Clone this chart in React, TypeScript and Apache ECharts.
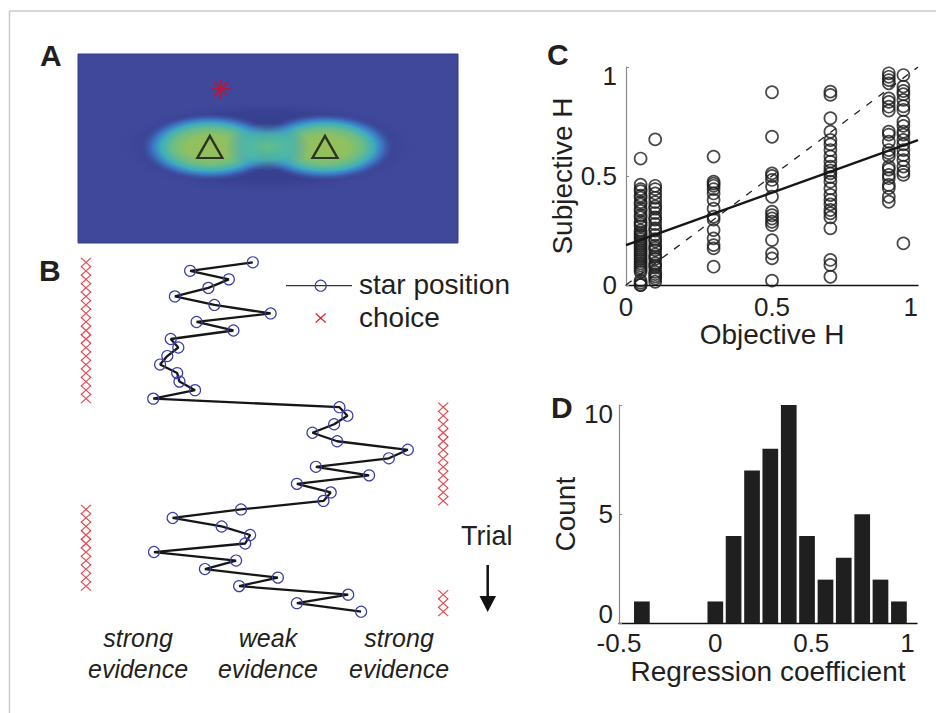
import React, { useEffect, useRef } from 'react';
import * as echarts from 'echarts';

const FONT = '"Liberation Sans", Arial, Helvetica, sans-serif';
const INK = '#231f20';

// ---------- Panel A: targets and star on the likelihood map ----------
const targetX = [0.347, 0.65];
const targetY = [0.508, 0.508];
const starX = [0.376];
const starY = [0.815];

// ---------- Panel B: star position per trial and choice ----------
const starPosition = [
  46.0, 29.5, 39.7, 34.3, 25.5, 35.9, 50.7, 31.2, 40.9, 24.4,
  26.4, 23.5, 21.6, 26.1, 26.7, 30.8, 19.8, 68.8, 70.9, 67.4,
  61.7, 68.2, 86.8, 81.8, 62.6, 76.6, 57.6, 66.5, 64.6, 42.9,
  24.9, 37.8, 45.3, 44.0, 20.0, 41.6, 33.4, 52.6, 42.4, 71.1,
  57.6, 74.5,
];
const trialChoice = 'LLLLLLLLLLLLLLLLLRRRRRRRRRRRRLLLLLLLLLLRRR'.split('');
const choiceSideX: Record<string, number> = { L: 2.1, R: 96.1 };
const evidenceLabels = ['strong\nevidence', 'weak\nevidence', 'strong\nevidence'];
const evidenceLabelX = [15.8, 50.0, 84.5];

// ---------- Panel C: subjective vs objective hazard ----------
const objectiveLevels = [0.05, 0.1, 0.3, 0.5, 0.7, 0.9, 0.95];
const subjAt005 = [0.58, 0.46, 0.44, 0.43, 0.41, 0.40, 0.38, 0.37, 0.35, 0.34, 0.32, 0.31, 0.29, 0.28, 0.27, 0.25, 0.24, 0.23, 0.22, 0.21, 0.20, 0.19, 0.18, 0.17, 0.16, 0.15, 0.14, 0.13, 0.12, 0.11, 0.10, 0.09, 0.08, 0.07, 0.06, 0.02, 0.01, 0.0, 0.0];
const subjAt010 = [0.668, 0.455, 0.44, 0.42, 0.40, 0.38, 0.36, 0.35, 0.33, 0.31, 0.30, 0.28, 0.26, 0.25, 0.23, 0.21, 0.20, 0.18, 0.17, 0.16, 0.14, 0.13, 0.12, 0.10, 0.09, 0.08, 0.06, 0.05, 0.04, 0.03, 0.015];
const subjAt030 = [0.589, 0.474, 0.465, 0.455, 0.44, 0.42, 0.39, 0.35, 0.313, 0.30, 0.252, 0.214, 0.183, 0.168, 0.084];
const subjAt050 = [0.884, 0.68, 0.512, 0.50, 0.482, 0.451, 0.405, 0.336, 0.32, 0.305, 0.29, 0.275, 0.206, 0.145, 0.122, 0.02];
const subjAt070 = [0.887, 0.872, 0.765, 0.703, 0.665, 0.645, 0.619, 0.59, 0.566, 0.543, 0.525, 0.512, 0.495, 0.474, 0.443, 0.413, 0.39, 0.37, 0.344, 0.329, 0.31, 0.26, 0.115, 0.092, 0.038];
const subjAt090 = [0.971, 0.955, 0.94, 0.925, 0.856, 0.84, 0.818, 0.80, 0.703, 0.69, 0.657, 0.619, 0.605, 0.589, 0.543, 0.53, 0.505, 0.49, 0.459, 0.445, 0.405, 0.382];
const subjAt095 = [0.963, 0.91, 0.89, 0.875, 0.849, 0.82, 0.803, 0.749, 0.73, 0.703, 0.69, 0.665, 0.645, 0.619, 0.596, 0.573, 0.543, 0.52, 0.505, 0.191];
const subjectiveByLevel = [subjAt005, subjAt010, subjAt030, subjAt050, subjAt070, subjAt090, subjAt095];
const fitLine = [[0, 0.183], [1, 0.665]];
const identityLine = [[0, 0], [1, 1]];

// ---------- Panel D: histogram of regression coefficients ----------
const binCenters = [-0.381, -0.286, -0.190, -0.095, 0.001, 0.096, 0.192, 0.287, 0.383, 0.478, 0.574, 0.669, 0.765, 0.860, 0.956];
const binCounts = [1, 0, 0, 0, 1, 4, 7, 8, 10, 4, 2, 3, 5, 2, 1];

export default function App() {
  const ref = useRef<HTMLDivElement>(null);

  useEffect(() => {
    if (!ref.current) return;
    const chart = echarts.init(ref.current, null, { renderer: 'svg' });

    const gA = { left: 78, top: 54, width: 380, height: 189 };
    const gB = { left: 78, top: 253.8, width: 380, height: 366.4 };
    const gC = { left: 626, top: 67, width: 292, height: 218 };
    const gD = { left: 619, top: 405, width: 298, height: 218.3 };

    const ax = (v: number) => gA.left + v * gA.width;
    const ay = (v: number) => gA.top + (1 - v) * gA.height;
    const bx = (v: number) => gB.left + (v / 100) * gB.width;

    const cx1 = ax(targetX[0]);
    const cx2 = ax(targetX[1]);
    const cyT = ay(targetY[0]);
    const mid = (cx1 + cx2) / 2;

    const blobGrad = {
      type: 'radial', x: 0.5, y: 0.5, r: 0.5,
      colorStops: [
        { offset: 0, color: 'rgba(152,192,90,1)' },
        { offset: 0.35, color: 'rgba(142,192,98,1)' },
        { offset: 0.55, color: 'rgba(104,188,138,1)' },
        { offset: 0.7, color: 'rgba(62,172,192,1)' },
        { offset: 0.82, color: 'rgba(60,122,200,0.9)' },
        { offset: 0.92, color: 'rgba(62,88,170,0.5)' },
        { offset: 1, color: 'rgba(62,72,155,0)' },
      ],
    };
    const midGrad = {
      type: 'radial', x: 0.5, y: 0.5, r: 0.5,
      colorStops: [
        { offset: 0, color: 'rgba(100,190,135,1)' },
        { offset: 0.55, color: 'rgba(75,182,170,0.85)' },
        { offset: 1, color: 'rgba(60,150,200,0)' },
      ],
    };
    const haloGrad = {
      type: 'radial', x: 0.5, y: 0.5, r: 0.5,
      colorStops: [
        { offset: 0, color: 'rgba(50,58,135,0.9)' },
        { offset: 0.75, color: 'rgba(52,60,140,0.6)' },
        { offset: 1, color: 'rgba(62,72,155,0)' },
      ],
    };

    const txt = (text: string, x: number, y: number, size: number, extra: any = {}) => ({
      type: 'text',
      style: {
        text, x, y,
        fontSize: size,
        fontFamily: FONT,
        fill: INK,
        textAlign: 'left',
        textVerticalAlign: 'middle',
        ...extra,
      },
    });

    const scatterC: number[][] = [];
    objectiveLevels.forEach((h, i) => {
      subjectiveByLevel[i].forEach((s) => scatterC.push([h, s]));
    });

    const axisLabelStyle = { fontSize: 26, color: INK, fontFamily: FONT, lineHeight: 18 };
    const axisNameStyle = { fontSize: 28, color: INK, fontFamily: FONT };

    const option: any = {
      animation: false,
      backgroundColor: '#ffffff',
      grid: [
        { ...gA },
        { ...gB },
        { ...gC },
        { ...gD },
      ],
      xAxis: [
        { gridIndex: 0, type: 'value', min: 0, max: 1, show: false },
        { gridIndex: 1, type: 'value', min: 0, max: 100, show: false },
        {
          gridIndex: 2, type: 'value', min: 0, max: 1, interval: 0.5,
          name: 'Objective H', nameLocation: 'middle', nameGap: 31, nameTextStyle: axisNameStyle,
          axisLine: { lineStyle: { color: '#111', width: 1.3 } },
          axisTick: { show: false },
          splitLine: { show: false },
          axisLabel: { ...axisLabelStyle, margin: 13, alignMaxLabel: 'right' },
        },
        {
          gridIndex: 3, type: 'value', min: -0.5, max: 1.05, interval: 0.5,
          name: 'Regression coefficient', nameLocation: 'middle', nameGap: 32, nameTextStyle: axisNameStyle,
          axisLine: { lineStyle: { color: '#111', width: 1.3 } },
          axisTick: { show: false },
          splitLine: { show: false },
          axisLabel: { ...axisLabelStyle, margin: 11, showMaxLabel: false },
        },
      ],
      yAxis: [
        { gridIndex: 0, type: 'value', min: 0, max: 1, show: false },
        { gridIndex: 1, type: 'value', min: 0, max: 43, inverse: true, show: false },
        {
          gridIndex: 2, type: 'value', min: 0, max: 1, interval: 0.5,
          name: 'Subjective H', nameLocation: 'middle', nameGap: 46, nameTextStyle: axisNameStyle,
          axisLine: { onZero: false, lineStyle: { color: '#8a8a8a', width: 1.2 } },
          axisTick: { show: true, inside: true, length: 3, lineStyle: { color: '#8a8a8a' } },
          splitLine: { show: false },
          axisLabel: { ...axisLabelStyle, margin: 9, verticalAlignMaxLabel: 'top' },
        },
        {
          gridIndex: 3, type: 'value', min: 0, max: 10, interval: 5,
          name: 'Count', nameLocation: 'middle', nameGap: 40, nameTextStyle: axisNameStyle,
          axisLine: { onZero: false, lineStyle: { color: '#8a8a8a', width: 1.2 } },
          axisTick: { show: true, inside: true, length: 3, lineStyle: { color: '#8a8a8a' } },
          splitLine: { show: false },
          axisLabel: { ...axisLabelStyle, margin: 6, verticalAlignMaxLabel: 'top', verticalAlignMinLabel: 'bottom' },
        },
      ],
      series: [
        // Panel A
        {
          name: 'targets', type: 'scatter', xAxisIndex: 0, yAxisIndex: 0,
          data: targetX.map((x, i) => [x, targetY[i]]),
          symbol: 'triangle', symbolSize: [25, 22],
          itemStyle: { color: 'rgba(0,0,0,0)', borderColor: '#111', borderWidth: 2.3 },
          clip: false, silent: true,
        },
        {
          name: 'star', type: 'scatter', xAxisIndex: 0, yAxisIndex: 0,
          data: starX.map((x, i) => [x, starY[i]]),
          symbol: 'path://M0,10L20,10M10,0L10,20M3,3L17,17M17,3L3,17', symbolSize: 20,
          itemStyle: { color: 'none', borderColor: '#c8102e', borderWidth: 2 },
          clip: false, silent: true,
        },
        // Panel B
        {
          name: 'star position', type: 'line', xAxisIndex: 1, yAxisIndex: 1,
          data: starPosition.map((p, i) => [p, i + 1]),
          symbol: 'circle', symbolSize: 11, showSymbol: true, showAllSymbol: true,
          lineStyle: { color: '#161616', width: 2.3 },
          itemStyle: { color: 'rgba(0,0,0,0)', borderColor: '#3a3fa6', borderWidth: 1.2 },
          clip: false, silent: true,
        },
        {
          name: 'choice', type: 'scatter', xAxisIndex: 1, yAxisIndex: 1,
          data: trialChoice.map((c, i) => [choiceSideX[c], i + 1]),
          symbol: 'path://M0,0L10,10M10,0L0,10', symbolSize: [10, 9],
          itemStyle: { color: 'none', borderColor: '#e0202a', borderWidth: 1.2 },
          clip: false, silent: true,
        },
        // Panel C
        {
          name: 'subjects', type: 'scatter', xAxisIndex: 2, yAxisIndex: 2,
          data: scatterC,
          symbol: 'circle', symbolSize: 12,
          itemStyle: { color: 'rgba(0,0,0,0)', borderColor: '#1c1c1c', borderWidth: 1.7 },
          clip: false, silent: true,
        },
        {
          name: 'identity', type: 'line', xAxisIndex: 2, yAxisIndex: 2,
          data: identityLine, showSymbol: false, symbol: 'none',
          lineStyle: { color: '#222', width: 1.3, type: [7, 8] },
          silent: true,
        },
        {
          name: 'fit', type: 'line', xAxisIndex: 2, yAxisIndex: 2,
          data: fitLine, showSymbol: false, symbol: 'none',
          lineStyle: { color: '#161616', width: 2.4 },
          silent: true,
        },
        // Panel D
        {
          name: 'count', type: 'bar', xAxisIndex: 3, yAxisIndex: 3,
          data: binCenters.map((c, i) => [c, binCounts[i]]),
          barWidth: 15.7,
          itemStyle: { color: '#1f1f1f' },
          silent: true,
        },
      ],
      graphic: [
        // figure frame
        { type: 'line', shape: { x1: 9.5, y1: 11, x2: 936, y2: 11 }, style: { stroke: '#c9c9c9', lineWidth: 1.5 } },
        { type: 'line', shape: { x1: 9.5, y1: 11, x2: 9.5, y2: 713 }, style: { stroke: '#c9c9c9', lineWidth: 1.5 } },
        // Panel A heat map
        { type: 'rect', z: 0, shape: { x: gA.left, y: gA.top, width: gA.width, height: gA.height }, style: { fill: '#3f489a', stroke: '#353c85', lineWidth: 1 } },
        { type: 'ellipse', z: 0, shape: { cx: mid, cy: cyT, rx: 155, ry: 48 }, style: { fill: haloGrad } },
        { type: 'ellipse', z: 0, shape: { cx: cx1, cy: cyT, rx: 70, ry: 34 }, style: { fill: blobGrad } },
        { type: 'ellipse', z: 0, shape: { cx: cx2, cy: cyT, rx: 70, ry: 34 }, style: { fill: blobGrad } },
        { type: 'ellipse', z: 0, shape: { cx: mid, cy: cyT, rx: 42, ry: 24 }, style: { fill: midGrad } },
        // Panel letters
        txt('A', 40, 55, 30, { fontWeight: 'bold' }),
        txt('B', 39, 270, 30, { fontWeight: 'bold' }),
        txt('C', 547, 54, 30, { fontWeight: 'bold' }),
        txt('D', 551, 407, 30, { fontWeight: 'bold' }),
        // Panel B legend
        { type: 'line', shape: { x1: 286, y1: 285.7, x2: 352, y2: 285.7 }, style: { stroke: '#333', lineWidth: 1.3 } },
        { type: 'circle', shape: { cx: 320.7, cy: 285.7, r: 5.5 }, style: { fill: 'none', stroke: '#3a3fa6', lineWidth: 1.2 } },
        txt('star position', 359, 284, 28),
        { type: 'line', shape: { x1: 315.7, y1: 313.5, x2: 325.7, y2: 322.5 }, style: { stroke: '#e0202a', lineWidth: 1.2 } },
        { type: 'line', shape: { x1: 325.7, y1: 313.5, x2: 315.7, y2: 322.5 }, style: { stroke: '#e0202a', lineWidth: 1.2 } },
        txt('choice', 359, 317, 28),
        // Trial arrow
        txt('Trial', 461, 536, 27),
        { type: 'line', shape: { x1: 487.7, y1: 565, x2: 487.7, y2: 598 }, style: { stroke: '#111', lineWidth: 2.5 } },
        { type: 'polygon', shape: { points: [[479.5, 596], [496, 596], [487.7, 612]] }, style: { fill: '#111' } },
        // evidence labels
        ...evidenceLabels.map((t, i) =>
          txt(t, bx(evidenceLabelX[i]), 653, 25, { fontStyle: 'italic', textAlign: 'center', lineHeight: 31 })
        ),
      ],
    };

    chart.setOption(option);
    return () => chart.dispose();
  }, []);

  return (
    <div
      ref={ref}
      style={{ position: 'absolute', left: 0, top: 0, width: 936, height: 713, background: '#fff' }}
    />
  );
}
